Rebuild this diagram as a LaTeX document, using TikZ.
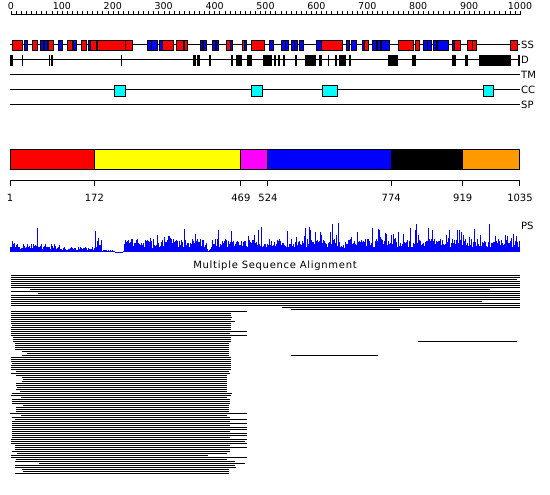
\documentclass[tikz,border=0pt]{standalone}
\usepackage{fontspec}
\setmainfont{DejaVu Sans}
\newfontfamily\spacedfont[LetterSpace=7]{DejaVu Sans}
\usepackage{tikz}
\usetikzlibrary{positioning}
\definecolor{domorange}{RGB}{255,153,0}
\definecolor{ccyan}{RGB}{0,255,255}
\definecolor{dmagenta}{RGB}{255,0,255}
\definecolor{dyellow}{RGB}{255,255,0}
\definecolor{pblue}{RGB}{0,0,255}
\newcommand{\resx}[1]{10+(#1-1)*0.49323}

\begin{document}
\begin{tikzpicture}[x=1pt, y=-1pt,
  track/.style={line width=1pt},
  ssbox/.style={draw, line width=0.8pt},
  trklabel/.style={anchor=west, inner sep=0pt, font=\fontsize{10}{12}\selectfont},
  num/.style={anchor=base, inner sep=0pt, font=\fontsize{10}{12}\selectfont},
  alnrow/.style={line width=1pt}
]
  \useasboundingbox (0,0) rectangle (550,495);
  \fill[white] (0,0) rectangle (550,495);

  \draw[track] (11,15) -- (520,15);
  \foreach \r in {0,10,...,1000} \draw (11+\r*0.509,15) -- ++(0,-4);
  \foreach \r in {0,100,...,1000} \node[num, font=\fontsize{9.5}{11}\selectfont] (ruler\r) at (11+\r*0.509,10) {\r};

  \foreach \y/\lab in {45/SS,60/D,75/TM,90/CC,105/SP} {
    \draw[track] (10,\y) -- (520,\y);
    \node[trklabel] (trk\lab) at (521,\y) {\lab};
  }
  \foreach \a/\b/\c in {12/22/red,24.7/27.3/pblue,32/37/red,40/43/pblue,44/47/pblue,48/53/red,58/62/pblue,
      67/72/red,73/76/pblue,81/86/red,88/90/pblue,90/96/red,97/125/red,125/132/red,147/151/pblue,
      151/157/pblue,159/162/pblue,162/173/red,176/183/red,184/187/red,200/202/pblue,203/206/pblue,
      212/215/pblue,216/218/pblue,226/230/red,230/232/pblue,242/244/red,244/246/pblue,251/264/red,
      269/273/pblue,281/285/pblue,285/288/pblue,291/294/pblue,294/297/pblue,299/303/pblue,316/321/pblue,
      321/342/red,346/349/pblue,351/356/pblue,362/364/pblue,364/368/red,372/376/pblue,377/380/pblue,
      381/389/pblue,398/413/red,415/419/red,423/427/pblue,427/431/pblue,433/436/pblue,437/448/pblue,
      452/454/pblue,454/460/red,467/472/red,472/476/red,510/517/red}
    \filldraw[ssbox, fill=\c] (\a,40) rectangle (\b,50);
  \foreach \a/\b in {10/13,22/23,49/50,51/53,121/121.8,193/196,197/200,209/211,231/233,236/242,
      247/252,263/272,274/276,278/280,283/285,295/297,305/316,319/322,328/329,335/337,339/346,
      349/351,388/398,412/416,452/456,465/468,479/511,518/520}
    \fill[black] (\a,55) rectangle (\b,66);
  \foreach \a/\b in {114/125,251/262,322/337,483/493}
    \filldraw[ssbox, fill=ccyan] (\a,85) rectangle (\b,96);

  \foreach \a/\b/\c in {1/172/red,172/469/dyellow,469/524/dmagenta,524/774/pblue,774/919/black,919/1035/domorange}
    \filldraw[fill=\c, draw=black, line width=1pt] ({\resx{\a}},150) rectangle ({\resx{\b}},170);
  \draw[track] (10,181) -- (520,181);
  \foreach \n in {1,172,469,524,774,919,1035} {
    \draw[track] ({\resx{\n}},181) -- ++(0,5);
    \node[num] (dom\n) at ({\resx{\n}},201) {\n};
  }

  \pgfmathsetseed{42}
  \foreach \x in {10,...,519} {
    \pgfmathsetmacro\env{\x<17 ? 10 : (\x<60 ? 7 : (\x<95 ? 4 : (\x<102 ? 12 : (\x<114 ? 2 : (\x<124 ? 0.6 : (\x<207 ? 11 : (\x<211 ? 3 : 11)))))))}
    \pgfmathsetmacro\spk{\x==37 ? 16 : (\x<95 ? 0 : ((\x>101 && \x<125) ? 0 : (rnd>0.82 ? 3+rnd*13 : 0)))}
    \pgfmathsetmacro\h{\env*(0.4+0.8*rnd)+\spk}
    \fill[pblue] (\x,252) rectangle (\x+1,252-\h);
  }
  \node[trklabel] (pslabel) at (521,226) {PS};

  \node[font=\spacedfont\fontsize{10}{12}\selectfont, inner sep=0pt] (msatitle) at (275,266) {Multiple Sequence Alignment};

  \foreach \s/\e [count=\k from 0] in {11/520,11/520,11/517,11/520,11/520,11/520,11/520,30/490,
      11/520,38/520,11/520,11/520,11/520,11/482,11/520,11/520,282/520,291/400}
    \draw[alnrow] (\s,275.5+2*\k) -- (\e,275.5+2*\k);
  \foreach \s/\e [count=\k from 0] in {11/247,11/231,11/231,11/232,11/231,11/235,11/231,12/231,
      11/231,11/231,11/247,11/230,11/247,13/231,13/231,13/231,15/229,15/229,15/229,15/229,
      22/229,27/229,22/229,11/231,11/231,11/231,12/231,11/231,11/231,11/231,16/229,11/230,
      16/227,22/227,23/227,22/227,16/227,16/227,17/227,16/227,20/227,12/232,11/231,21/227,
      12/230,12/230,12/230,23/229,16/229,16/229,16/229,10/247,21/227,12/230,15/247,12/230,
      12/247,12/230,12/247,12/247,12/230,12/247,12/247,12/230,11/247,11/245,11/247,15/230,
      15/247,15/230,12/230,17/227,11/208,11/247,16/227,15/235,39/245,15/235,15/236,22/229,
      23/229,15/229}
    \draw[alnrow] (\s,311.5+2*\k) -- (\e,311.5+2*\k);
  \draw[alnrow] (418,341.5) -- (517,341.5);
  \draw[alnrow] (291,355.5) -- (378,355.5);
\end{tikzpicture}
\end{document}
